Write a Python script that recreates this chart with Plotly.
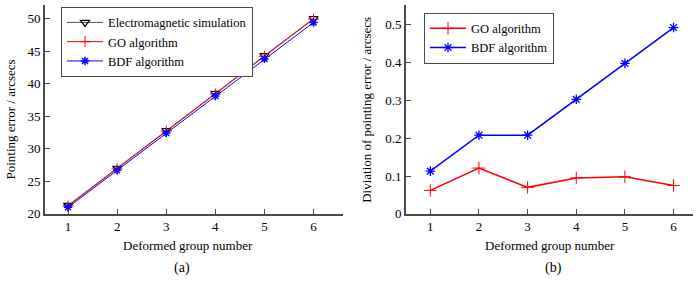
import plotly.graph_objects as go

groups = [1, 2, 3, 4, 5, 6]
em_sim = [21.3, 27.0, 32.8, 38.5, 44.3, 50.0]
go_alg = [21.2, 26.9, 32.7, 38.4, 44.2, 49.9]
bdf_alg = [21.0, 26.7, 32.4, 38.1, 43.8, 49.4]
go_dev = [0.062, 0.121, 0.070, 0.095, 0.098, 0.075]
bdf_dev = [0.113, 0.208, 0.208, 0.303, 0.398, 0.493]

FONT = "'Liberation Serif', 'Times New Roman', serif"
AX = "#4a4a4a"

fig = go.Figure()
fig.add_trace(go.Scatter(x=groups, y=em_sim, name="Electromagnetic simulation", mode="lines+markers",
                         line=dict(color="#555555", width=1),
                         marker=dict(symbol="triangle-down-open", size=8, color="black", line=dict(width=1.2)),
                         xaxis="x", yaxis="y", legend="legend"))
fig.add_trace(go.Scatter(x=groups, y=go_alg, name="GO algorithm", mode="lines+markers",
                         line=dict(color="red", width=1),
                         marker=dict(symbol="cross-thin-open", size=8, color="red", line=dict(width=1, color="red")),
                         xaxis="x", yaxis="y", legend="legend"))
fig.add_trace(go.Scatter(x=groups, y=bdf_alg, name="BDF algorithm", mode="lines+markers",
                         line=dict(color="blue", width=1),
                         marker=dict(symbol="asterisk-open", size=7, color="blue", line=dict(width=1.5, color="blue")),
                         xaxis="x", yaxis="y", legend="legend"))
fig.add_trace(go.Scatter(x=groups, y=go_dev, name="GO algorithm", mode="lines+markers",
                         line=dict(color="red", width=1.5),
                         marker=dict(symbol="cross-thin-open", size=9, color="red", line=dict(width=1, color="red")),
                         xaxis="x2", yaxis="y2", legend="legend2"))
fig.add_trace(go.Scatter(x=groups, y=bdf_dev, name="BDF algorithm", mode="lines+markers",
                         line=dict(color="blue", width=1.5),
                         marker=dict(symbol="asterisk-open", size=8, color="blue", line=dict(width=1.3, color="blue")),
                         xaxis="x2", yaxis="y2", legend="legend2"))

axcommon = dict(showline=True, linecolor=AX, linewidth=1.7, ticks="inside", ticklen=5, tickcolor=AX,
                tickwidth=1, showgrid=False, zeroline=False, tickfont=dict(family=FONT, size=13, color="black"))
ytop = 1 - 5 / 284
ybot = (284 - 220) / 284


def ann(text, x, y, size=13, angle=0):
    return dict(text=text, x=x / 700, y=1 - y / 284, xref="paper", yref="paper", showarrow=False,
                xanchor="center", yanchor="middle", textangle=angle, font=dict(family=FONT, size=size))


fig.update_layout(
    width=700, height=284, margin=dict(l=0, r=0, t=0, b=0),
    paper_bgcolor="white", plot_bgcolor="white",
    font=dict(family=FONT, color="black"),
    xaxis=dict(domain=[45 / 700, 343 / 700], range=[0.53, 6.6], tickvals=groups, anchor="y", **axcommon),
    yaxis=dict(domain=[ybot, ytop], range=[20, 52.1], tickvals=[20, 25, 30, 35, 40, 45, 50], anchor="x", **axcommon),
    xaxis2=dict(domain=[406 / 700, 693 / 700], range=[0.5, 6.4], tickvals=groups, anchor="y2", **axcommon),
    yaxis2=dict(domain=[ybot, ytop], range=[0, 0.553], tickvals=[0, 0.1, 0.2, 0.3, 0.4, 0.5],
                ticktext=["0", "0.1", "0.2", "0.3", "0.4", "0.5"], anchor="x2", **axcommon),
    legend=dict(x=61 / 700, y=1 - 7 / 284, xanchor="left", yanchor="top", bordercolor=AX, borderwidth=1,
                bgcolor="white", font=dict(family=FONT, size=12.5), tracegroupgap=0, itemwidth=36),
    legend2=dict(x=424 / 700, y=1 - 13 / 284, xanchor="left", yanchor="top", bordercolor=AX, borderwidth=1,
                 bgcolor="white", font=dict(family=FONT, size=12.5), tracegroupgap=0, itemwidth=36),
    annotations=[
        ann("Deformed group number", 188, 253),
        ann("Deformed group number", 550, 253),
        ann("(a)", 182, 276, 14),
        ann("(b)", 553, 276, 14),
        ann("Pointing error / arcsecs", 11, 123, 13, -90),
        ann("Diviation of pointing error / arcsecs", 367, 113, 13, -90),
    ],
)

fig.write_html("out.html", config={"displayModeBar": False},
               post_script="document.body.style.margin='0';document.body.style.overflow='hidden';")
